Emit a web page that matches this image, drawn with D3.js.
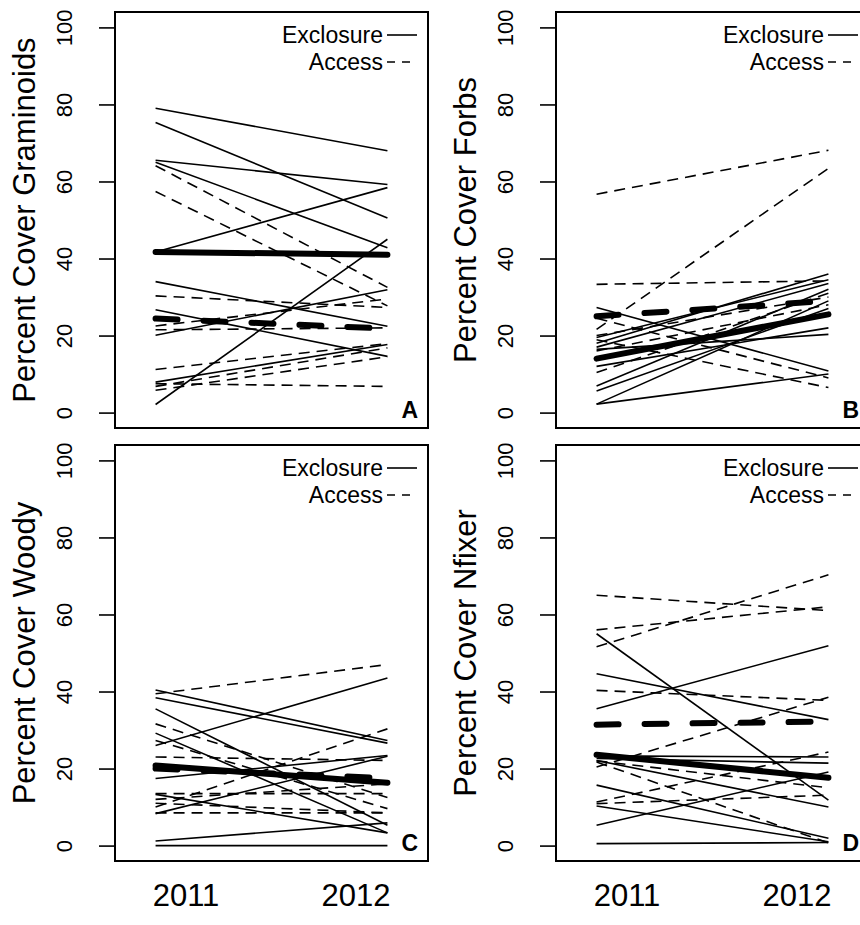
<!DOCTYPE html>
<html>
<head>
<meta charset="utf-8">
<script src="https://cdn.jsdelivr.net/npm/d3@7"></script>
<style>
  body { margin: 0; background: #fff; }
  svg { display: block; font-family: "Liberation Sans", Arial, Helvetica, sans-serif; }
</style>
</head>
<body>
<svg id="chart" width="860" height="925"></svg>
<script>
// years on the x axis
const years = [2011, 2012];
const yearLabels = ["2011", "2012"];
const yTicks = [0, 20, 40, 60, 80, 100];
const groups = ["Exclosure", "Access"];

// each pair is [2011, 2012] percent cover for one plot
const gramExcl = [[79, 68], [75.3, 50.5], [65.5, 59.2], [65, 42.8], [41.7, 58.4], [34, 22.4],
  [26.7, 14.6], [20.1, 31.9], [7.9, 17.7], [2.1, 45]];
const gramAccess = [[64.1, 32.5], [57.4, 27.7], [30.3, 27.3], [22.5, 29.5], [21.5, 22],
  [11.2, 17.9], [7.5, 6.8], [6.8, 16.8], [5.8, 14.5]];
const gramMeans = [[41.7, 41.0], [24.4, 21.8]];

const forbExcl = [[27.3, 10.8], [2.2, 10], [2.2, 29], [6.9, 32], [5.6, 27], [16.4, 20.3],
  [18, 36], [17, 33.5], [19.5, 34.5], [12, 22]];
const forbAccess = [[56.7, 68.1], [21.6, 63.4], [33.3, 34.2], [18.9, 6.5], [24.5, 9],
  [10.4, 31], [20, 30], [16, 28]];
const forbMeans = [[14, 25.5], [25, 29]];

const woodyExcl = [[40.4, 27.3], [38.4, 26.6], [35.5, 5.3], [26, 43.5], [29.2, 3.3], [17.4, 23.4],
  [8.3, 23.2], [13.3, 3.3], [1.2, 5.9], [0, 0]];
const woodyAccess = [[39.4, 47], [31.6, 12.5], [27.3, 9.6], [23, 22.1], [13.5, 13.5], [12, 16],
  [10, 30.3], [11, 8.5], [8.5, 8.5]];
const woodyMeans = [[20.8, 16.3], [20, 17.5]];

const nfixExcl = [[55, 11.8], [44.6, 32.7], [35.5, 51.9], [23.3, 23], [22.6, 21.4], [22.1, 10],
  [15.7, 1.9], [5.3, 19.1], [10.3, 1], [0.5, 0.8]];
const nfixAccess = [[65, 61], [56, 62], [51.6, 70.3], [40.3, 37.7], [20.4, 38.5], [11.3, 24.3],
  [10.9, 13.1], [21.7, 0.7], [22, 15]];
const nfixMeans = [[23.6, 17.6], [31.4, 32.2]];

const panels = [
  { label: "Percent Cover Graminoids", letter: "A", excl: gramExcl, access: gramAccess, means: gramMeans, col: 0, row: 0 },
  { label: "Percent Cover Forbs", letter: "B", excl: forbExcl, access: forbAccess, means: forbMeans, col: 1, row: 0 },
  { label: "Percent Cover Woody", letter: "C", excl: woodyExcl, access: woodyAccess, means: woodyMeans, col: 0, row: 1 },
  { label: "Percent Cover Nfixer", letter: "D", excl: nfixExcl, access: nfixAccess, means: nfixMeans, col: 1, row: 1 }
];

const svg = d3.select("#chart");
const boxW = 313, boxH = 416;
const colX = [115, 556], rowY = [12, 445];

const x = d3.scaleLinear().domain([2010.825, 2012.175]).range([0, boxW]);
const y = d3.scaleLinear().domain([-4, 104]).range([boxH, 0]);
const line = d3.line().x((d, i) => x(years[i])).y(d => y(d));

const thinDash = "11,7";

panels.forEach(p => {
  const g = svg.append("g")
    .attr("transform", `translate(${colX[p.col]},${rowY[p.row]})`);

  // thin plot lines
  g.selectAll(".excl").data(p.excl).join("path")
    .attr("d", line).attr("fill", "none")
    .attr("stroke", "#000").attr("stroke-width", 1.6);
  g.selectAll(".acc").data(p.access).join("path")
    .attr("d", line).attr("fill", "none")
    .attr("stroke", "#000").attr("stroke-width", 1.6)
    .attr("stroke-dasharray", thinDash);

  // thick mean lines
  g.append("path").attr("d", line(p.means[0])).attr("fill", "none")
    .attr("stroke", "#000").attr("stroke-width", 6).attr("stroke-linecap", "round");
  g.append("path").attr("d", line(p.means[1])).attr("fill", "none")
    .attr("stroke", "#000").attr("stroke-width", 6).attr("stroke-linecap", "round")
    .attr("stroke-dasharray", "22,26");

  // box
  g.append("rect").attr("width", boxW).attr("height", boxH)
    .attr("fill", "none").attr("stroke", "#000").attr("stroke-width", 2);

  // y axis
  const ax = g.append("g").call(d3.axisLeft(y).tickValues(yTicks).tickSize(16).tickSizeOuter(0));
  ax.select(".domain").remove();
  ax.selectAll("line").attr("stroke-width", 1.6);
  ax.selectAll("text")
    .attr("transform", "rotate(-90)")
    .attr("x", 0).attr("y", -43).attr("dy", 0)
    .attr("text-anchor", "middle")
    .style("font-size", "22px").style("font-family", "Liberation Sans, Arial, sans-serif");

  g.append("text")
    .attr("transform", `translate(-80,${boxH / 2}) rotate(-90)`)
    .attr("text-anchor", "middle").style("font-size", "31px")
    .text(p.label);

  // legend
  const leg = g.append("g");
  groups.forEach((name, i) => {
    const by = 31 + i * 27;
    leg.append("text").attr("x", boxW - 45).attr("y", by)
      .attr("text-anchor", "end").style("font-size", "23px").text(name);
    leg.append("line").attr("x1", boxW - 41).attr("x2", boxW - 11)
      .attr("y1", by - 8).attr("y2", by - 8)
      .attr("stroke", "#000").attr("stroke-width", 1.6)
      .attr("stroke-dasharray", i === 1 ? "8,7" : null);
  });

  // panel letter
  g.append("text").attr("x", boxW - 10).attr("y", boxH - 10)
    .attr("text-anchor", "end").style("font-size", "23px").style("font-weight", "bold")
    .text(p.letter);

  // year labels under bottom row
  if (p.row === 1) {
    const xl = d3.scalePoint().domain(yearLabels).range([71, 241]);
    g.selectAll(".yr").data(yearLabels).join("text")
      .attr("x", d => xl(d)).attr("y", 906 - rowY[1])
      .attr("text-anchor", "middle").style("font-size", "31px")
      .text(d => d);
  }
});
</script>
</body>
</html>
